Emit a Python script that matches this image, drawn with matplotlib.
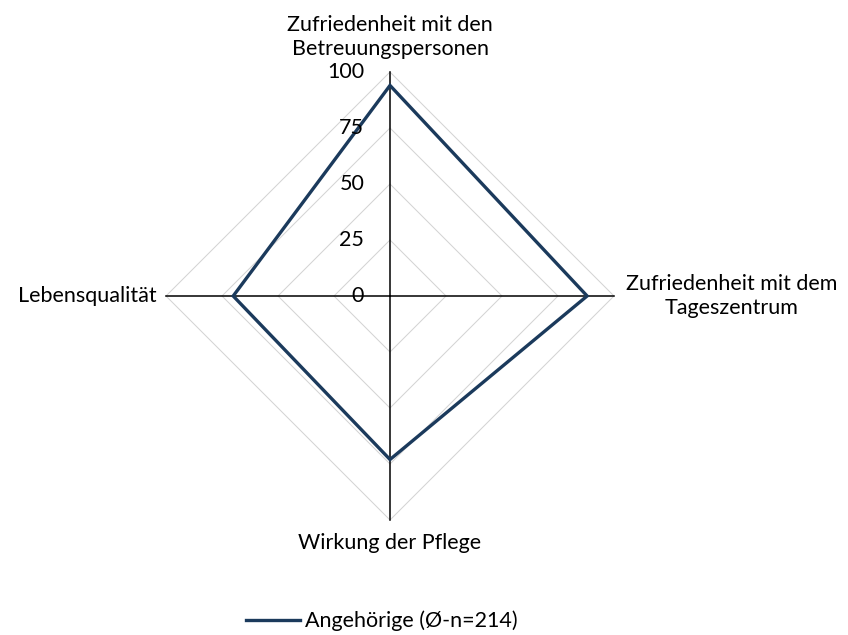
import numpy as np
import matplotlib.pyplot as plt
from matplotlib.patches import Polygon

categories = ["Zufriedenheit mit den\nBetreuungspersonen", "Zufriedenheit mit dem\nTageszentrum",
              "Wirkung der Pflege", "Lebensqualität"]
values = [94, 88, 73, 70]
ticks = [0, 25, 50, 75, 100]
series_name = "Angehörige (Ø-n=214)"

plt.rcParams['font.family'] = ['Lato', 'DejaVu Sans']
fs = 15.5

fig = plt.figure(figsize=(8.48, 6.35), dpi=100)
ax = fig.add_axes([0, 0, 1, 1])
scale = 2.24  # pixels per unit
ax.set_xlim(-390 / scale, (848 - 390) / scale)
ax.set_ylim(-(635 - 296) / scale, 296 / scale)
ax.set_aspect('equal')
ax.axis('off')

n = len(categories)
angles = np.pi / 2 - np.arange(n) * 2 * np.pi / n
ca, sa = np.round(np.cos(angles), 12), np.round(np.sin(angles), 12)

# grid rings
for t in ticks[1:]:
    ax.add_patch(Polygon(np.column_stack([t * ca, t * sa]), closed=True, fill=False,
                         edgecolor='#d4d4d4', lw=0.75, zorder=1))
# axes spokes
rmax = ticks[-1]
for c, s in zip(ca, sa):
    ax.plot([0, rmax * c], [0, rmax * s], color='black', lw=1.1, zorder=2)

# series
v = np.array(values)
ax.add_patch(Polygon(np.column_stack([v * ca, v * sa]), closed=True, fill=False,
                     edgecolor='#1b3a5c', lw=2.4, joinstyle='miter', zorder=3))
line, = ax.plot([], [], color='#1b3a5c', lw=2.4)

# tick labels
for t in ticks:
    ax.text(-11.5, t, str(t), ha='right', va='center', fontsize=fs, zorder=4)

# category labels
ax.text(0, rmax + 6, categories[0], ha='center', va='bottom', fontsize=fs, linespacing=1.2)
ax.text(rmax + 5.5, 0, categories[1], ha='left', va='center', fontsize=fs, linespacing=1.2,
        multialignment='center')
ax.text(0, -rmax - 6, categories[2], ha='center', va='top', fontsize=fs)
ax.text(-rmax - 4, 0, categories[3], ha='right', va='center', fontsize=fs)

fig.legend([line], [series_name], loc='center', bbox_to_anchor=(0.45, 1 - 621 / 635),
           frameon=False, fontsize=fs, handlelength=2.5, handletextpad=0.25)

fig.savefig('out.png', dpi=100)
